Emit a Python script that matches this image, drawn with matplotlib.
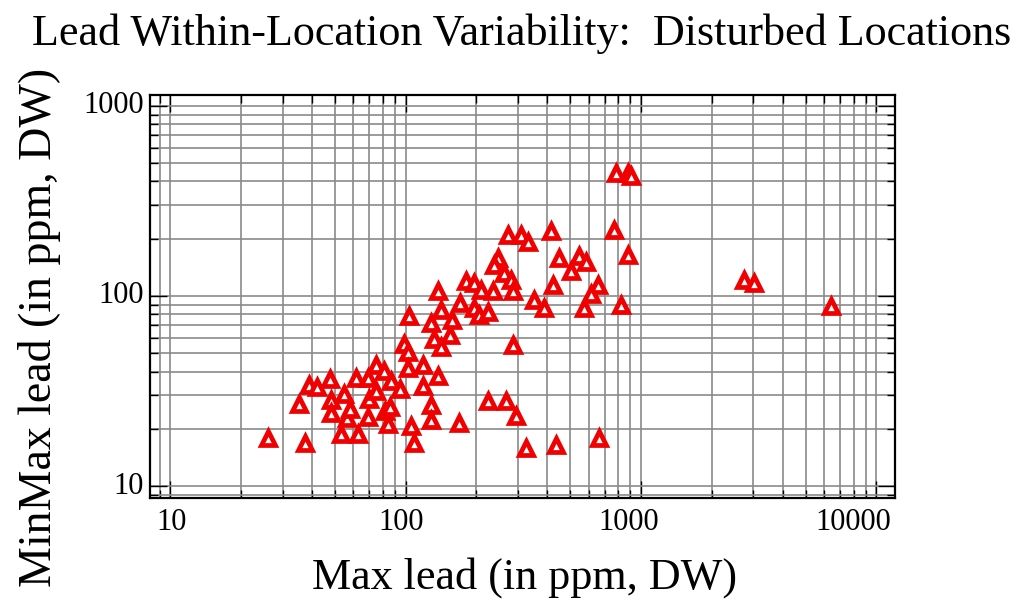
import matplotlib
matplotlib.use("Agg")
import matplotlib.pyplot as plt
import matplotlib.transforms as mtransforms
from matplotlib.ticker import LogLocator, NullFormatter, FixedLocator

# Data (Max lead, MinMax lead), ppm dry weight
max_lead = [26.1, 35.1, 37.5, 38.7, 42.2, 47.5, 48.0, 48.4, 52.9, 54.5,
            56.1, 58.3, 61.3, 62.5, 68.9, 69.6, 68.9, 74.5, 74.5, 80.6,
            81.4, 83.8, 86.3, 85.5, 94.3, 98.0, 102, 102, 105, 108,
            103, 118, 119, 137, 128, 128, 168, 128, 132, 141,
            141, 155, 158, 137, 171, 180, 195, 195, 205, 209,
            223, 235, 246, 237, 261, 280, 285, 272, 309, 330,
            285, 223, 266, 294, 324, 351, 387, 414, 422, 448,
            435, 504, 545, 583, 656, 613, 572, 662, 768, 783,
            881, 906, 822, 881, 2743, 3027, 6442]
minmax_lead = [17.9, 27.0, 16.8, 34.0, 33.2, 36.6, 28.4, 24.2, 18.8, 30.5,
               22.8, 25.4, 37.0, 18.8, 37.0, 28.7, 23.1, 43.3, 31.6, 40.3,
               24.8, 21.2, 35.7, 26.1, 32.4, 55.9, 50.7, 41.8, 20.7, 16.8,
               78.5, 43.3, 33.6, 37.9, 26.7, 22.3, 21.5, 72.1, 59.4, 53.9,
               84.4, 62.4, 74.7, 106, 91.8, 120, 117, 86.4, 79.4, 108,
               82.4, 106, 158, 146, 132, 121, 106, 209, 209, 192,
               55.2, 28.0, 28.0, 23.4, 15.8, 95.3, 86.4, 220, 114, 158,
               16.4, 135, 162, 151, 114, 102, 86.4, 17.9, 222, 444,
               444, 428, 89.7, 164, 121, 117, 88.5]

title = "Lead Within-Location Variability:  Disturbed Locations"
xlabel = "Max lead (in ppm, DW)"
ylabel = "MinMax lead (in ppm, DW)"
xticks = [10, 100, 1000, 10000]
xticklabels = ["10", "100", "1000", "10000"]
yticks = [10, 100, 1000]
yticklabels = ["10", "100", "1000"]

plt.rcParams['font.family'] = ['Liberation Serif', 'DejaVu Serif']

W, H = 1026, 605
fig = plt.figure(figsize=(W / 100, H / 100), dpi=100)
ax = fig.add_axes([150 / W, 1 - 498 / H, (895 - 150) / W, (498 - 95) / H])

ax.set_xscale('log')
ax.set_yscale('log')
ax.set_xlim(8.2, 12000)
ax.set_ylim(8.65, 1140)

ax.plot(max_lead, minmax_lead, linestyle='none', marker='^', markersize=10,
        markerfacecolor='white', markeredgecolor='#f00000', markeredgewidth=3.4,
        zorder=3, clip_on=False)

ax.xaxis.set_major_locator(FixedLocator(xticks))
ax.yaxis.set_major_locator(FixedLocator(yticks))
ax.xaxis.set_minor_locator(LogLocator(base=10, subs=range(2, 10), numticks=20))
ax.yaxis.set_minor_locator(LogLocator(base=10, subs=range(2, 10), numticks=20))
ax.xaxis.set_minor_formatter(NullFormatter())
ax.yaxis.set_minor_formatter(NullFormatter())
ax.set_xticklabels([])
ax.set_yticklabels([])

ax.grid(True, which='both', color='#8a8a8a', linewidth=1.2, zorder=1)
ax.set_axisbelow(True)

ax.tick_params(which='both', direction='in', top=True, right=True,
               color='black', width=1.0)
ax.tick_params(which='major', length=12)
ax.tick_params(which='minor', length=6)
for s in ax.spines.values():
    s.set_linewidth(1.6)
    s.set_color('black')

# tick labels as text, with the small shifts seen in the reference
xoffsets_px = [1, -5, -12, -23]
xtrans = mtransforms.blended_transform_factory(ax.transData, ax.transAxes)
for v, lab, dx in zip(xticks, xticklabels, xoffsets_px):
    off = mtransforms.ScaledTranslation(dx / 100, 0, fig.dpi_scale_trans)
    ax.text(v, -0.025, lab, transform=xtrans + off, ha='center', va='top',
            fontsize=22, clip_on=False)
ytrans = mtransforms.blended_transform_factory(ax.transAxes, ax.transData)
for v, lab in zip(yticks, yticklabels):
    off = mtransforms.ScaledTranslation(-6 / 100, 0, fig.dpi_scale_trans)
    ax.text(0, v, lab, transform=ytrans + off, ha='right', va='center',
            fontsize=22, clip_on=False)

fig.text(522 / W, 1 - 34 / H, title, ha='center', va='center', fontsize=31.8)
fig.text(525 / W, 1 - 578 / H, xlabel, ha='center', va='center', fontsize=31.8)
fig.text(40 / W, 1 - 327 / H, ylabel, ha='center', va='center', fontsize=33,
         rotation=90)

fig.savefig("out.png", dpi=100)
